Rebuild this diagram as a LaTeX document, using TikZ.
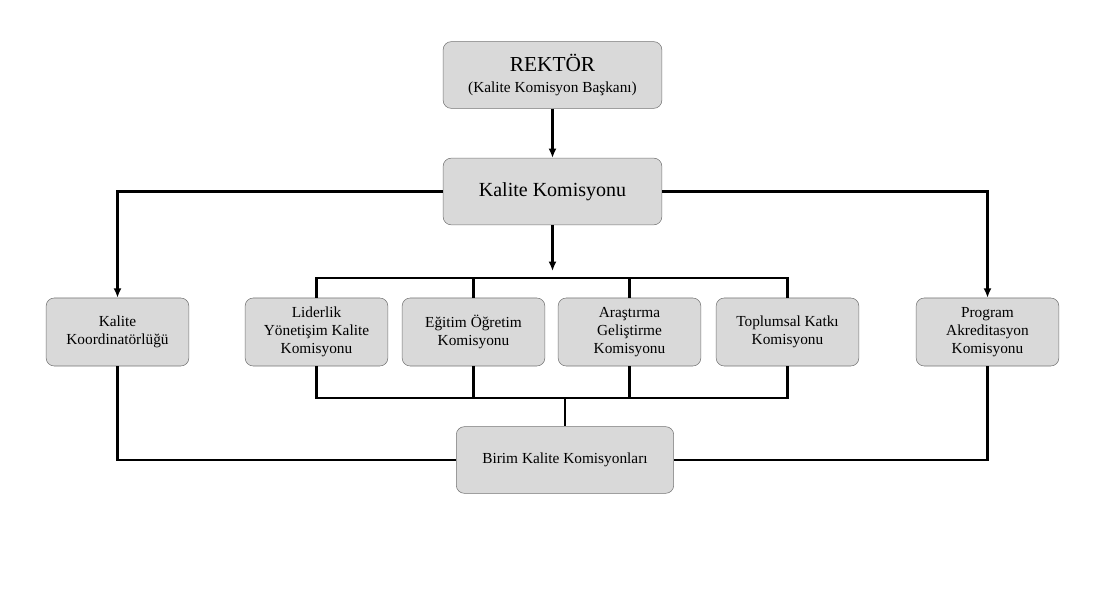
\documentclass[tikz,border=0pt]{standalone}
\usepackage{fontspec}
\setmainfont{Liberation Serif}
\begin{document}
\begin{tikzpicture}[x=0.75pt,y=-0.75pt,
 box/.style={draw=black!55,fill=black!15,rounded corners=6pt,align=center,font=\fontsize{11.5}{13.5}\selectfont,inner sep=0pt},
 ln/.style={line width=1.6pt},
 arr/.style={ln,-{Latex[length=7pt,width=6pt]}}]
\useasboundingbox (0,0) rectangle (1115,606);
\usetikzlibrary{arrows.meta}
\node[box,minimum width=164pt,minimum height=50pt] (rek) at (552.5,75) {{\fontsize{16}{18}\selectfont REKTÖR}\\[2pt](Kalite Komisyon Başkanı)};
\node[box,minimum width=164pt,minimum height=50pt,font=\fontsize{15}{17}\selectfont] (kk) at (552.5,191.5) {Kalite Komisyonu};
\foreach \n/\x/\t in {koord/117.5/{Kalite\\Koordinatörlüğü},lid/316.5/{Liderlik\\Yönetişim Kalite\\Komisyonu},egt/473.5/{Eğitim Öğretim\\Komisyonu},ars/629.5/{Araştırma\\Geliştirme\\Komisyonu},top/787.5/{Toplumsal Katkı\\Komisyonu},prg/987.5/{Program\\Akreditasyon\\Komisyonu}}
 \node[box,minimum width=107pt,minimum height=51pt] (\n) at (\x,332) {\t};
\node[box,minimum width=163pt,minimum height=50pt] (bir) at (565,460) {Birim Kalite Komisyonları};
\coordinate (kb) at (552.5,271);
\draw[arr] (rek) -- (kk);
\draw[arr] (kk.south) -- (kb);
\draw[arr] (kk.west) -- (117.5,191.5) -- (koord);
\draw[arr] (kk.east) -- (987.5,191.5) -- (prg);
\draw[ln] (lid.north) -- (316.5,278) -- (787.5,278) -- (top.north);
\draw[ln] (egt.north) -- (473.5,278) (ars.north) -- (629.5,278);
\draw[ln] (lid.south) -- (316.5,398) -- (787.5,398) -- (top.south);
\draw[ln] (egt.south) -- (473.5,398) (ars.south) -- (629.5,398);
\draw[ln] (565,398) -- (bir.north);
\draw[ln] (koord.south) -- (117.5,460) -- (bir.west);
\draw[ln] (prg.south) -- (987.5,460) -- (bir.east);
\end{tikzpicture}
\end{document}
